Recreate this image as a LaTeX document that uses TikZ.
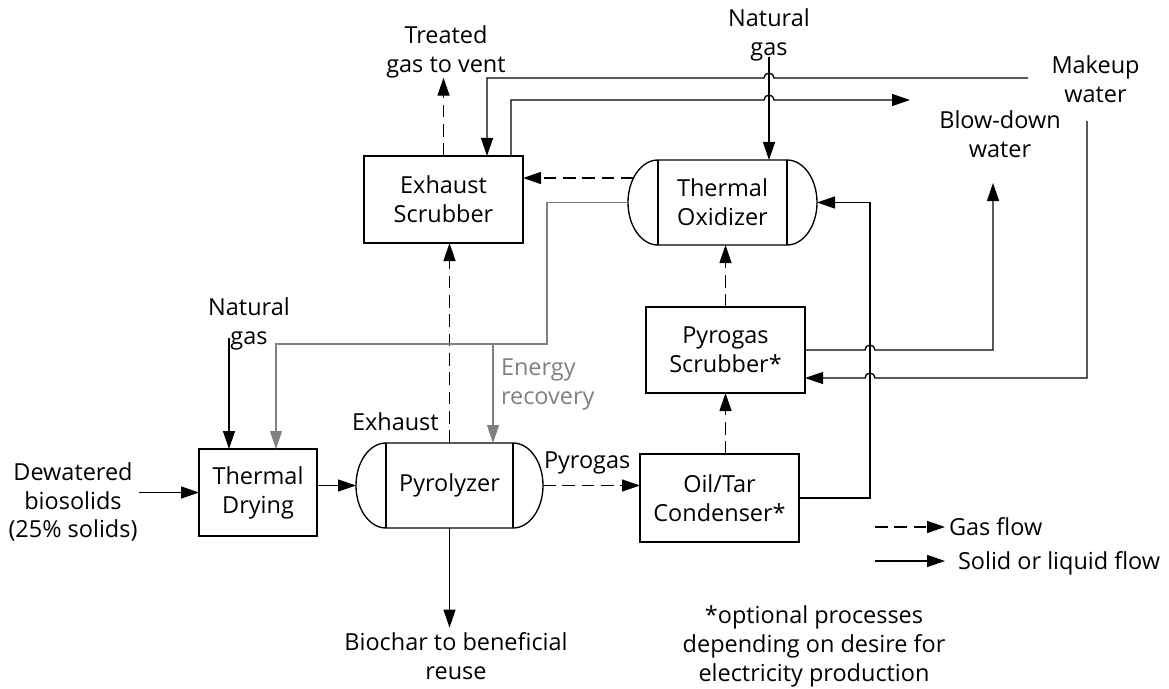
\documentclass[tikz,border=0pt]{standalone}
\usepackage{fontspec}
\setmainfont{Open Sans}
\usetikzlibrary{arrows.meta,calc}
\definecolor{ergray}{RGB}{128,128,128}

% outline of a horizontal vessel with rounded heads, drawn round a node
\newcommand\drawvessel[1]{%
  \draw[line width=1pt] ([xshift=22.5pt]#1.north west) -- ([xshift=-22.5pt]#1.north east)
    arc[start angle=-90,end angle=90,x radius=30,y radius=42.5]
    -- ([xshift=22.5pt]#1.south west)
    arc[start angle=90,end angle=270,x radius=30,y radius=42.5] -- cycle;
  \draw[line width=1pt] ([xshift=22.5pt]#1.north west) -- ([xshift=22.5pt]#1.south west)
    ([xshift=-22.5pt]#1.north east) -- ([xshift=-22.5pt]#1.south east);}

\begin{document}
\begin{tikzpicture}[x=0.75pt,y=-0.75pt,
  every node/.style={font=\fontsize{17.6}{21.7}\selectfont, inner sep=0pt, outer sep=0pt, align=center},
  procbox/.style={draw, line width=1pt},
  vessel/.style={draw=none},
  flow/.style={line width=1pt, -{Triangle[length=13.5pt,width=9pt]}},
  gasflow/.style={flow, dash pattern=on 9.5pt off 5pt},
  energy/.style={flow, draw=ergray, color=ergray}]

\path[use as bounding box] (0,0) rectangle (1169,688);

% process units
\node[procbox, minimum width=159*0.75pt, minimum height=87*0.75pt] (es) at (443.5,199.5) {Exhaust\\Scrubber};
\node[vessel, minimum width=189*0.75pt, minimum height=85*0.75pt] (ox) at (722.5,202.5) {Thermal\\Oxidizer};
\node[procbox, minimum width=159*0.75pt, minimum height=86*0.75pt] (ps) at (725.5,350) {Pyrogas\\Scrubber*};
\node[procbox, minimum width=118*0.75pt, minimum height=87*0.75pt] (dry) at (258,492.5) {Thermal\\Drying};
\node[vessel, minimum width=187*0.75pt, minimum height=85*0.75pt] (py) at (449.5,485.5) {Pyrolyzer};
\node[procbox, minimum width=159*0.75pt, minimum height=88*0.75pt] (cond) at (719.5,498) {Oil/Tar\\Condenser*};
\drawvessel{ox}
\drawvessel{py}

% stream labels
\node (tg) at (446,51.5) {Treated\\gas to vent};
\node (ngt) at (769,35) {Natural\\gas};
\node (mk) at (1095.5,79) {Makeup\\water};
\node (bd) at (1000,134.5) {Blow-down\\water};
\node (ngl) at (249,324) {Natural\\gas};
\node[anchor=west, text=ergray, align=left] (er) at (501,384) {Energy\\recovery};
\node[anchor=base west] (exl) at (352,430) {Exhaust};
\node[anchor=base west] (pgl) at (544,468) {Pyrogas};
\node (dw) at (73,502) {Dewatered\\biosolids\\(25\% solids)};
\node[inner sep=4pt] (bc) at (456,656.5) {Biochar to beneficial\\reuse};
\node (fn) at (814,646) {*optional processes\\depending on desire for\\electricity production};
\node[anchor=base west] (lgg) at (949,535) {Gas flow};
\node[anchor=base west] (lgs) at (958,569) {Solid or liquid flow};

% stream ends and bend points
\coordinate (ngin) at (769,57);
\coordinate (mkin) at (1028,78);
\coordinate (bdout) at (910,100);
\coordinate (es-in) at (487,156);
\coordinate (es-out) at (511,156);
\coordinate (mkin2) at (1087,121);
\coordinate (bdout2) at (993,183);
\coordinate (ps-in) at (805,378);
\coordinate (riser) at (870,0);
\coordinate (oxg) at (633.5,178);
\coordinate (feed) at (139,492.5);
\coordinate (ng2) at (229,338);
\coordinate (g1) at (547,344);
\coordinate (gd) at (276,344);
\coordinate (gp) at (493,344);
\coordinate (lg1s) at (875,527);
\coordinate (lg1e) at (945,527);
\coordinate (lg2s) at (875,561);
\coordinate (lg2e) at (945,561);

% solid and liquid streams
\draw[flow] (ngin) -- (ngin |- ox.north);
\draw[flow] (mkin) -- ($(ngin |- mkin)+(5,0)$) arc[start angle=0,end angle=-180,radius=5]
  -- (es-in |- mkin) -- (es-in);
\draw[flow] (es-out) -- (es-out |- bdout) -- ($(ngin |- bdout)+(-5,0)$)
  arc[start angle=180,end angle=360,radius=5] -- (bdout);
\draw[flow] (ps.east) -- ($(riser |- ps.east)+(-5,0)$)
  arc[start angle=180,end angle=360,radius=5] -| (bdout2);
\draw[flow] (mkin2) |- ($(riser |- ps-in)+(5,0)$)
  arc[start angle=0,end angle=-180,radius=5] -- (ps-in);
\draw[flow] (cond.east) -| (riser |- ox.east) -- (ox.east);
\draw[flow] (feed) -- (feed -| dry.west);
\draw[flow] (dry.east |- py.west) -- (py.west);
\draw[flow] (py.south) -- (py.south |- bc.north);
\draw[flow] (ng2) -- (ng2 |- dry.north);

% gas streams
\draw[gasflow] (py.east) -- (py.east -| cond.west);
\draw[gasflow] (ps.south |- cond.north) -- (ps.south);
\draw[gasflow] (ps.north) -- (ps.north |- ox.south);
\draw[gasflow] (oxg) -- (oxg -| es.east);
\draw[gasflow] (py.north) -- (py.north |- es.south);
\draw[gasflow] (es.north) -- (es.north |- tg.south);

% heat recovered from the oxidizer
\draw[energy] (ox.west) -| (g1) -- (gd) -- (gd |- dry.north);
\draw[energy] (gp) -- (gp |- py.north);

% legend
\draw[gasflow] (lg1s) -- (lg1e);
\draw[flow] (lg2s) -- (lg2e);
\end{tikzpicture}
\end{document}
